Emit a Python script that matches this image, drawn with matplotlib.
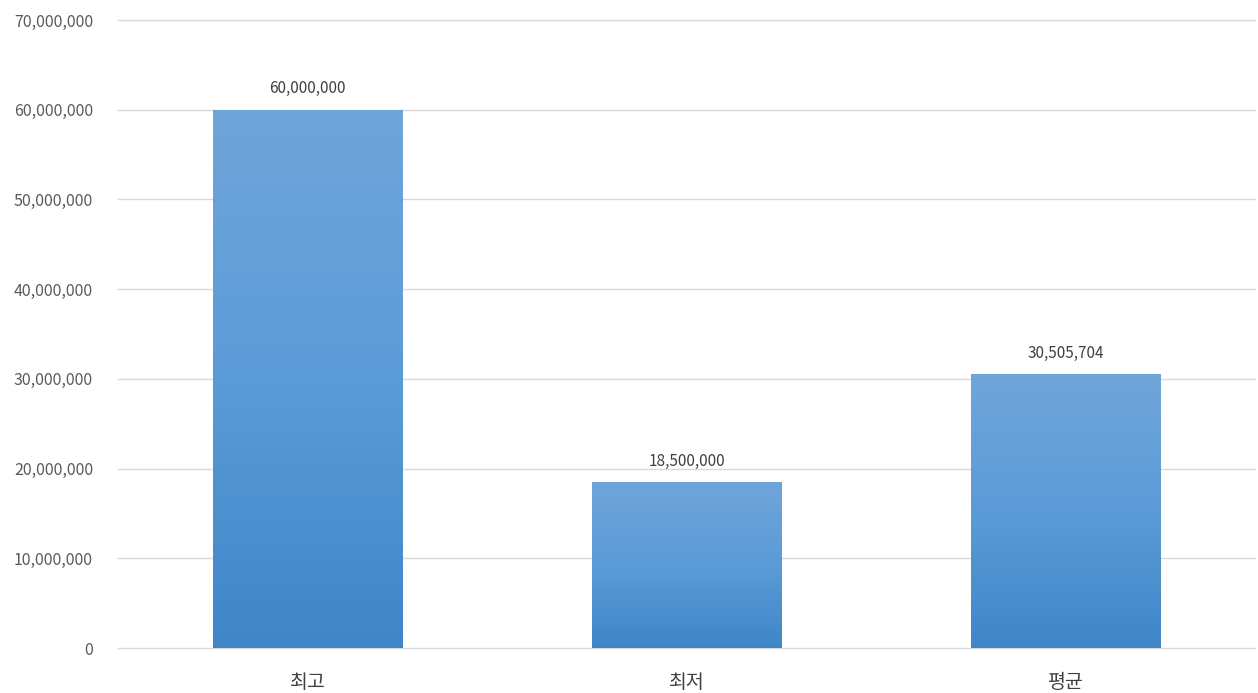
import numpy as np
import matplotlib
matplotlib.use('Agg')
import matplotlib.pyplot as plt
from matplotlib.colors import LinearSegmentedColormap
from matplotlib.ticker import FuncFormatter

plt.rcParams['font.family'] = ['Noto Sans CJK KR', 'DejaVu Sans']

categories = ['최고', '최저', '평균']
values = [60000000, 18500000, 30505704]
value_labels = ['60,000,000', '18,500,000', '30,505,704']

fig = plt.figure(figsize=(12.58, 6.93), dpi=100)
ax = fig.add_axes([0.0938, 0.0649, 0.9038, 0.9062])

x = np.arange(len(categories))
bars = ax.bar(x, values, width=0.5, color='none', zorder=3)

# vertical gradient inside each bar: light at top, darker at bottom
cmap = LinearSegmentedColormap.from_list('bar_grad', ['#3f86c8', '#5b9bd8', '#70a5da'])
grad = np.linspace(0, 1, 256).reshape(-1, 1)
for b in bars:
    x0, y0 = b.get_x(), b.get_y()
    w, h = b.get_width(), b.get_height()
    im = ax.imshow(grad, cmap=cmap, aspect='auto', origin='lower',
                   extent=[x0, x0 + w, y0, y0 + h], zorder=3)
    im.set_clip_path(b)

for xi, v, lab in zip(x, values, value_labels):
    ax.text(xi, v + 1400000, lab, ha='center', va='bottom', fontsize=11, color='#404040')

ax.set_xlim(-0.5, len(categories) - 0.5)
ax.set_ylim(0, 70000000)
ax.set_yticks(np.arange(0, 70000001, 10000000))
ax.yaxis.set_major_formatter(FuncFormatter(lambda v, p: f'{int(v):,}'))
ax.set_xticks(x)
ax.set_xticklabels(categories, fontsize=14, color='#404040')
ax.tick_params(axis='y', length=0, pad=18, labelsize=11.5, labelcolor='#595959')
ax.tick_params(axis='x', length=0, pad=17)
ax.grid(axis='y', color='#d9d9d9', linewidth=1, zorder=0)
for gl in ax.get_ygridlines():
    gl.set_clip_on(False)
ax.set_axisbelow(True)
for s in ax.spines.values():
    s.set_visible(False)

fig.savefig('out.png', dpi=100)
